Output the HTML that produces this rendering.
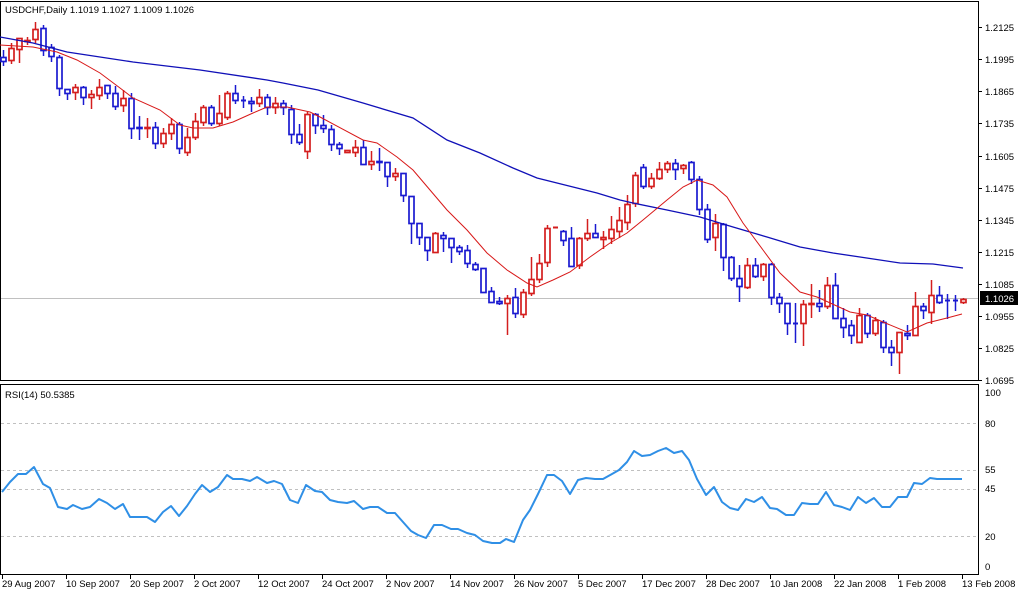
<!DOCTYPE html>
<html><head><meta charset="utf-8">
<style>
html,body{margin:0;padding:0;background:#fff;}
body{width:1018px;height:590px;overflow:hidden;position:relative;font-family:"Liberation Sans",Tahoma,sans-serif;}
svg{position:absolute;left:0;top:0;}
text{font-family:"Liberation Sans",Tahoma,sans-serif;font-size:9.5px;fill:#000;}
</style></head><body>
<svg id="s" width="1018" height="590" viewBox="0 0 1018 590" xmlns="http://www.w3.org/2000/svg">
<rect x="0" y="0" width="1018" height="590" fill="#fff"/>
<rect x="0.5" y="1.5" width="978" height="379" fill="none" stroke="#000"/>
<rect x="0.5" y="384.5" width="978" height="190" fill="none" stroke="#000"/>
<g stroke="#c0c0c0" stroke-dasharray="3,3">
<line x1="1" y1="423.5" x2="978" y2="423.5"/>
<line x1="1" y1="470.5" x2="978" y2="470.5"/>
<line x1="1" y1="489.5" x2="978" y2="489.5"/>
<line x1="1" y1="536.5" x2="978" y2="536.5"/>
</g>
<line x1="1" y1="298.5" x2="978" y2="298.5" stroke="#c0c0c0"/>
<g id="cd"></g>
<polyline fill="none" stroke="#1010b8" stroke-width="1.3" points="0,37 33,43 67,52 133,62 200,70 267,80 283,83 318,90 363,103 413,118 447,140 480,153 513,168 537,178 573,187 597,193 620,200 633,203 667,210 700,217 733,227 767,237 800,247 833,253 860,257 900,263 933,264 963,268"/>
<polyline fill="none" stroke="#d81818" stroke-width="1" points="0,45 33,47 57,52 77,60 100,73 120,88 133,98 160,110 180,125 193,128 213,128 233,122 253,113 267,107 287,107 310,112 320,117 363,140 377,143 397,157 413,170 430,190 447,210 467,230 487,253 507,270 527,283 537,287 553,280 570,272 590,257 610,243 627,233 643,220 667,200 683,187 697,180 713,185 727,197 743,223 763,250 780,273 800,292 817,297 850,312 867,315 883,322 907,332 927,323 947,318 962,314"/>
<polyline fill="none" stroke="#2f8fe6" stroke-width="2" stroke-linejoin="round" points="2,492 10,482 18,474 26,474 34,467 43,484 50,488 58,507 67,509 73,505 82,509 90,507 99,499 107,503 115,509 123,504 130,517 147,517 155,522 163,512 171,506 179,516 187,506 195,494 202,485 210,492 218,487 227,475 233,479 242,479 250,481 257,477 267,483 274,481 282,484 290,500 298,503 306,485 315,491 322,492 330,500 338,502 347,503 354,501 363,509 370,507 378,507 387,513 395,513 403,522 411,531 418,535 426,538 434,525 442,525 451,529 458,529 467,533 475,535 483,541 492,543 500,543 506,539 514,542 523,520 530,510 538,494 547,475 554,475 562,481 570,494 578,480 586,478 595,479 603,479 612,474 619,470 627,462 634,451 642,456 650,455 658,451 666,448 674,453 682,451 689,460 697,479 706,495 714,487 722,502 730,508 738,510 746,499 754,502 762,497 770,508 777,509 786,515 794,515 802,503 810,504 818,504 826,492 834,505 842,507 850,510 858,497 866,503 874,498 882,507 890,507 898,497 907,497 914,483 922,484 930,478 937,479 962,479"/>
<text x="5" y="13">USDCHF,Daily  1.1019 1.1027 1.1009 1.1026</text>
<text x="5" y="398">RSI(14) 50.5385</text>
<g stroke="#000">
<line x1="979" y1="27.5" x2="982" y2="27.5"/><line x1="979" y1="59.5" x2="982" y2="59.5"/>
<line x1="979" y1="91.5" x2="982" y2="91.5"/><line x1="979" y1="123.5" x2="982" y2="123.5"/>
<line x1="979" y1="156.5" x2="982" y2="156.5"/><line x1="979" y1="188.5" x2="982" y2="188.5"/>
<line x1="979" y1="220.5" x2="982" y2="220.5"/><line x1="979" y1="252.5" x2="982" y2="252.5"/>
<line x1="979" y1="284.5" x2="982" y2="284.5"/><line x1="979" y1="316.5" x2="982" y2="316.5"/>
<line x1="979" y1="348.5" x2="982" y2="348.5"/><line x1="979" y1="380.5" x2="982" y2="380.5"/>
</g>
<g>
<text x="985" y="31">1.2125</text><text x="985" y="63">1.1995</text>
<text x="985" y="95">1.1865</text><text x="985" y="127">1.1735</text>
<text x="985" y="160">1.1605</text><text x="985" y="192">1.1475</text>
<text x="985" y="224">1.1345</text><text x="985" y="256">1.1215</text>
<text x="985" y="288">1.1085</text><text x="985" y="320">1.0955</text>
<text x="985" y="352">1.0825</text><text x="985" y="384">1.0695</text>
</g>
<rect x="980" y="291" width="38" height="14" fill="#000"/>
<text x="985" y="302" style="fill:#fff">1.1026</text>
<g>
<text x="985" y="396">100</text><text x="985" y="427">80</text>
<text x="985" y="473">55</text><text x="985" y="492">45</text>
<text x="985" y="540">20</text><text x="985" y="570">0</text>
</g>
<g id="dt" stroke="#000"></g>
<g>
<text x="2" y="587">29 Aug 2007</text><text x="66" y="587">10 Sep 2007</text>
<text x="130" y="587">20 Sep 2007</text><text x="194" y="587">2 Oct 2007</text>
<text x="258" y="587">12 Oct 2007</text><text x="322" y="587">24 Oct 2007</text>
<text x="386" y="587">2 Nov 2007</text><text x="450" y="587">14 Nov 2007</text>
<text x="514" y="587">26 Nov 2007</text><text x="578" y="587">5 Dec 2007</text>
<text x="642" y="587">17 Dec 2007</text><text x="706" y="587">28 Dec 2007</text>
<text x="770" y="587">10 Jan 2008</text><text x="834" y="587">22 Jan 2008</text>
<text x="898" y="587">1 Feb 2008</text><text x="962" y="587">13 Feb 2008</text>
</g>
</svg>
<script>
var d=[
"b,57,61,50,65","r,48,60,43,63","r,38,49,38,62","r,40,41,37,44","r,29,39,22,42","b,28,50,25,55","b,47,56,44,61","b,57,88,55,95","b,89,93,89,99","r,87,92,84,99",
"b,87,97,86,104","r,94,97,90,108","r,87,95,79,99","b,85,93,85,98","b,93,106,86,109","r,98,105,90,111","b,98,128,93,138","b,127,128,116,139","r,127,128,118,137","b,127,143,122,148",
"r,133,143,128,147","r,124,133,118,139","b,124,148,122,153","r,137,152,128,155","r,121,137,113,139","r,107,122,105,125","b,107,123,105,125","r,113,123,95,125","r,93,117,91,119","b,93,100,85,103",
"b,100,100,96,107","b,101,103,97,111","r,97,103,89,106","b,97,107,94,114","r,103,107,97,113","b,103,107,100,114","b,109,134,105,143","b,134,142,124,144","r,114,151,112,158","b,114,125,113,133",
"b,125,128,115,132","b,129,144,125,150","b,144,148,142,154","r,150,152,150,152","r,147,152,140,156","b,147,164,140,164","r,161,164,151,169","b,161,162,148,170","b,162,176,162,186","r,173,176,168,180",
"b,173,195,173,201","b,196,223,196,243","b,223,237,223,244","b,237,250,237,260","r,233,252,232,252","b,235,238,232,251","b,238,247,238,262","b,247,251,245,254","b,250,263,245,267","b,264,269,262,270",
"b,268,292,268,292","b,291,302,287,302","b,301,303,297,304","r,298,303,295,334","b,297,313,288,317","r,292,314,289,317","r,279,293,257,295","r,263,279,254,282","r,228,262,225,266","r,227,227,227,227",
"b,231,240,230,245","b,238,266,227,266","r,238,265,237,268","r,233,238,219,240","b,233,237,224,237","r,237,239,231,248","r,229,238,216,243","r,220,231,207,237","r,204,222,195,229","r,175,203,172,206",
"b,167,186,164,188","r,178,186,173,188","r,169,178,162,179","r,163,169,161,172","b,163,169,159,179","r,165,168,164,173","b,162,179,161,183","b,179,209,176,214","b,209,239,204,242","r,223,237,214,250",
"b,224,257,223,270","b,257,278,256,280","b,278,286,265,301","r,265,287,258,288","b,265,276,258,277","r,264,276,263,280","b,264,297,263,304","b,297,303,293,312","b,303,323,303,334","b,323,323,303,342",
"r,304,323,300,345","r,303,304,284,317","b,303,306,290,311","r,285,306,277,308","b,285,318,273,318","b,318,327,308,337","b,325,335,320,343","r,315,342,308,340","b,315,333,313,337","r,320,333,317,335",
"b,322,347,320,352","b,347,352,340,365","r,332,352,332,373","b,333,335,325,339","r,306,335,292,335","b,306,310,303,318","r,295,312,280,323","b,295,302,286,303","b,300,300,294,318","b,300,300,295,310",
"r,299,302,298,303"];
var g=document.getElementById("cd"),h="";
for(var i=0;i<d.length;i++){var p=d[i].split(","),c=p[0]=="r"?"#d41e1e":"#1a1ad0",t=+p[1],b=+p[2],wt=+p[3],wb=+p[4],x=3+8*i;
h+='<line x1="'+(x+.5)+'" y1="'+wt+'" x2="'+(x+.5)+'" y2="'+(wb+1)+'" stroke="'+c+'" stroke-width="1.5"/>';
if(b-t<1){h+='<line x1="'+(x-2)+'" y1="'+(t+.5)+'" x2="'+(x+3)+'" y2="'+(t+.5)+'" stroke="'+c+'" stroke-width="2"/>';}
else h+='<rect x="'+(x-2)+'" y="'+(t+.5)+'" width="5" height="'+(b-t)+'" fill="#fff" stroke="'+c+'" stroke-width="1.7"/>';}
g.innerHTML=h;
var dt="";for(var k=0;k<16;k++){var xx=2+64*k+.5;dt+='<line x1="'+xx+'" y1="575" x2="'+xx+'" y2="579"/>';}
document.getElementById("dt").innerHTML=dt;
</script>
</body></html>
